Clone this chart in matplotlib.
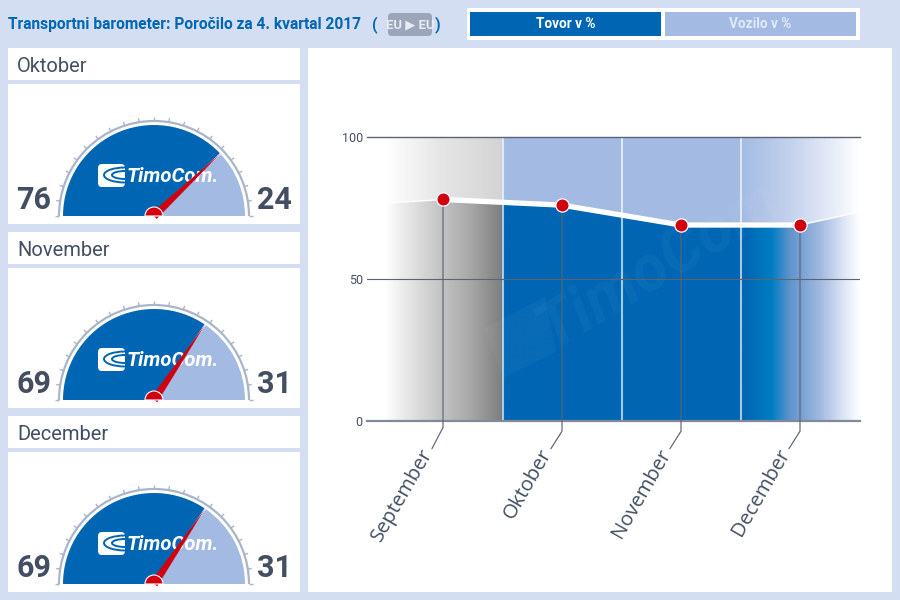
import numpy as np
import matplotlib
matplotlib.use('Agg')
import matplotlib.pyplot as plt
from matplotlib.colors import to_rgb
from matplotlib.patches import Rectangle, Wedge, Polygon, FancyBboxPatch, Arc

# data
months = ['September', 'Oktober', 'November', 'December']
cargo = [78, 76, 69, 69]
edge_left = 76.7
edge_right = 73.6
yticks = [0, 50, 100]

gauge_months = ['Oktober', 'November', 'December']
gauge_cargo = [76, 69, 69]
gauge_vehicle = [24, 31, 31]

BG = '#d3def2'
BLUE = '#0066b3'
LIGHT = '#a3bbe3'
RED = '#d0000f'
DARK = '#434e63'
GRID = '#5b6473'

plt.rcParams['font.family'] = ['Roboto', 'DejaVu Sans']

fig = plt.figure(figsize=(9, 6), dpi=100, facecolor=BG)

# page axes in pixels, y runs down
page = fig.add_axes([0, 0, 1, 1])
page.set_xlim(0, 900)
page.set_ylim(600, 0)
page.axis('off')


def box(x0, y0, x1, y1, color, z=1):
    page.add_patch(Rectangle((x0, y0), x1 - x0, y1 - y0, facecolor=color, edgecolor='none', zorder=z))


def logo(x, y):
    page.add_patch(FancyBboxPatch((x, y), 27, 23, boxstyle='round,pad=0,rounding_size=4',
                                  facecolor='white', edgecolor='none', zorder=4))
    for w, h in [(42, 15), (26, 8)]:
        page.add_patch(Arc((x + 27, y + 11), w, h, theta1=90, theta2=270, color=BLUE, lw=1.4, zorder=5))
    page.text(x + 29, y + 12, 'TimoCom.', color='white', fontsize=14.6, fontweight='bold',
              fontstyle='italic', va='center', ha='left', zorder=4)


def gauge(cy, cargo_val, vehicle_val):
    cx = 154
    r = 91
    split = 180 + 180 * cargo_val / 100
    page.add_patch(Wedge((cx, cy), r, 180, split, facecolor=BLUE, edgecolor='none', zorder=2))
    page.add_patch(Wedge((cx, cy), r, split, 360, facecolor=LIGHT, edgecolor='none', zorder=2))
    page.add_patch(Arc((cx, cy), 190, 190, theta1=180, theta2=360, color='#aab5c9', lw=1.6, zorder=2))
    # scale ticks
    for a in np.deg2rad(np.arange(180, 361, 9)):
        page.plot([cx + 95 * np.cos(a), cx + 99 * np.cos(a)], [cy + 95 * np.sin(a), cy + 99 * np.sin(a)],
                  color='#aab5c9', lw=1, zorder=2, solid_capstyle='butt')
    logo(98, cy - 52)
    # needle
    a = np.deg2rad(split)
    tip = (cx + r * np.cos(a), cy + r * np.sin(a))
    n = np.array([-np.sin(a), np.cos(a)])
    page.plot([cx, tip[0]], [cy, tip[1]], color='white', lw=1, zorder=5)
    page.add_patch(Polygon([tip, (cx + 4 * n[0], cy + 4 * n[1]), (cx - 4 * n[0], cy - 4 * n[1])],
                           facecolor=RED, edgecolor='none', zorder=6))
    page.add_patch(Wedge((cx, cy), 9, 180, 360, facecolor=RED, edgecolor='white', lw=0.8, zorder=7))
    page.text(34, cy - 1, str(cargo_val), color=DARK, fontsize=22, fontweight='bold', ha='center', va='bottom', zorder=3)
    page.text(274, cy - 1, str(vehicle_val), color=DARK, fontsize=22, fontweight='bold', ha='center', va='bottom', zorder=3)


# header
page.text(8, 25, 'Transportni barometer: Poročilo za 4. kvartal 2017', color=BLUE, fontsize=11.2, fontweight='bold',
          va='center', ha='left')
page.text(372, 25, '(', color=BLUE, fontsize=11.5, fontweight='bold', va='center', ha='left')
page.add_patch(FancyBboxPatch((388, 13), 44, 23, boxstyle='round,pad=0,rounding_size=4', facecolor='#9ba6b8',
                              edgecolor='none'))
page.text(410, 25, 'EU ▶ EU', color='#e8ecf4', fontsize=9.4, fontweight='bold', va='center', ha='center')
page.text(435, 25, ')', color=BLUE, fontsize=11.5, fontweight='bold', va='center', ha='left')

box(467, 8, 860, 40, 'white')
box(470, 12, 661, 36, BLUE, 2)
box(665, 12, 856, 36, LIGHT, 2)
page.text(566, 24.5, 'Tovor v %', color='white', fontsize=9.8, fontweight='bold', ha='center', va='center', zorder=3)
page.text(760, 24.5, 'Vozilo v %', color='#e2e9f6', fontsize=9.8, fontweight='bold', ha='center', va='center', zorder=3)

# left column
box(8, 48, 300, 80, 'white')
box(8, 84, 300, 224, 'white')
box(8, 232, 300, 264, 'white')
box(8, 268, 300, 408, 'white')
box(8, 416, 300, 448, 'white')
box(8, 452, 300, 592, 'white')
box(308, 48, 892, 592, 'white')
for i, name in enumerate(gauge_months):
    page.text(17, 66 + i * 184, name, color=DARK, fontsize=14.5, va='center', ha='left', zorder=3)
    gauge(216 + i * 184, gauge_cargo[i], gauge_vehicle[i])

# main chart
x0 = -76 / 119
x1 = 417 / 119
ax = fig.add_axes([367 / 900, 1 - 421 / 600, 493 / 900, 284 / 600], facecolor='none')
ax.set_xlim(x0, x1)
ax.set_ylim(0, 100)
for s in ax.spines.values():
    s.set_visible(False)

xs = np.arange(len(months))
area_x = np.r_[-0.49, xs, 3.5]
area_y = np.r_[edge_left, cargo, edge_right]


def band(stops, clip_pts):
    # horizontal colour ramp from pixel stops, clipped to the area
    grid = np.linspace(385, 860, 476)
    px = [p[0] for p in stops]
    cols = np.array([to_rgb(p[1]) for p in stops])
    img = np.stack([np.interp(grid, px, cols[:, k]) for k in range(3)], axis=-1)[None, :, :]
    left = (385 - 443) / 119
    right = (860 - 443) / 119
    im = ax.imshow(img, extent=[left, right, 0, 100], aspect='auto', zorder=1, interpolation='bilinear')
    poly = Polygon(clip_pts, transform=ax.transData, facecolor='none', edgecolor='none')
    ax.add_patch(poly)
    im.set_clip_path(poly)


upper_stops = [(385, '#ffffff'), (400, '#f8f8f8'), (440, '#e6e6e6'), (501, '#d4d4d4'), (503, LIGHT), (741, LIGHT),
               (790, '#c3d1ec'), (830, '#e4eaf7'), (860, '#ffffff')]
lower_stops = [(385, '#ffffff'), (400, '#eeeeee'), (440, '#c4c4c4'), (470, '#a8a8a8'), (501, '#7f7f7f'), (503, BLUE),
               (745, BLUE), (772, '#007dc2'), (790, '#5f93cc'), (820, '#a0b8e0'), (845, '#dfe7f6'), (860, '#ffffff')]
band(upper_stops, list(zip(area_x, area_y)) + [(x1, 100), (-0.49, 100)])
band(lower_stops, list(zip(area_x, area_y)) + [(x1, 0), (-0.49, 0)])
ax.set_xlim(x0, x1)
ax.set_ylim(0, 100)

# watermark, logo block drawn in page pixels
ax.text(1.82, 55, 'TimoCom', color='white', alpha=0.04, fontsize=46, fontweight='bold', fontstyle='italic',
        rotation=31, ha='center', va='center', zorder=2)
ax.add_patch(Polygon([(484, 328), (545, 297), (556, 352), (503, 378)], transform=page.transData, facecolor='white',
                     edgecolor='none', alpha=0.035, zorder=2))

# separators between the months
for m in xs[:-1]:
    ax.plot([m + 0.5, m + 0.5], [0, 100], color='white', alpha=0.65, lw=1.5, zorder=3)

# gridlines
ax.plot([x0, x1], [100, 100], color=GRID, lw=1, zorder=4, clip_on=False)
ax.plot([x0, x1], [50, 50], color=GRID, lw=0.8, zorder=4)
ax.plot([x0, x1], [0, 0], color='#7f8a9a', lw=1.6, zorder=4, clip_on=False)

# leader lines and month labels
for m, name in zip(xs, months):
    bend = -2.3 if m == 0 else -3.6
    ax.plot([m, m, m - 11 / 119], [cargo[m], bend, -9.7], color=GRID, lw=0.85, zorder=5, clip_on=False)
    ax.text(m - 15 / 119, -10.4, name, color=DARK, fontsize=14.5, family='Open Sans', rotation=60,
            rotation_mode='anchor', ha='right', va='center', clip_on=False)

# white line and markers
ax.plot(area_x, area_y, color='white', lw=1, zorder=6)
ax.plot(xs, cargo, color='white', lw=3.8, zorder=6, solid_capstyle='butt')
ax.plot(xs, cargo, 'o', ms=9.5, mfc=RED, mec='white', mew=0.9, zorder=7, linestyle='none')

ax.set_xticks([])
ax.set_yticks(yticks)
ax.tick_params(axis='y', length=0, pad=3, labelsize=9, labelcolor=DARK)

fig.savefig('out.png', dpi=100, facecolor=BG)
